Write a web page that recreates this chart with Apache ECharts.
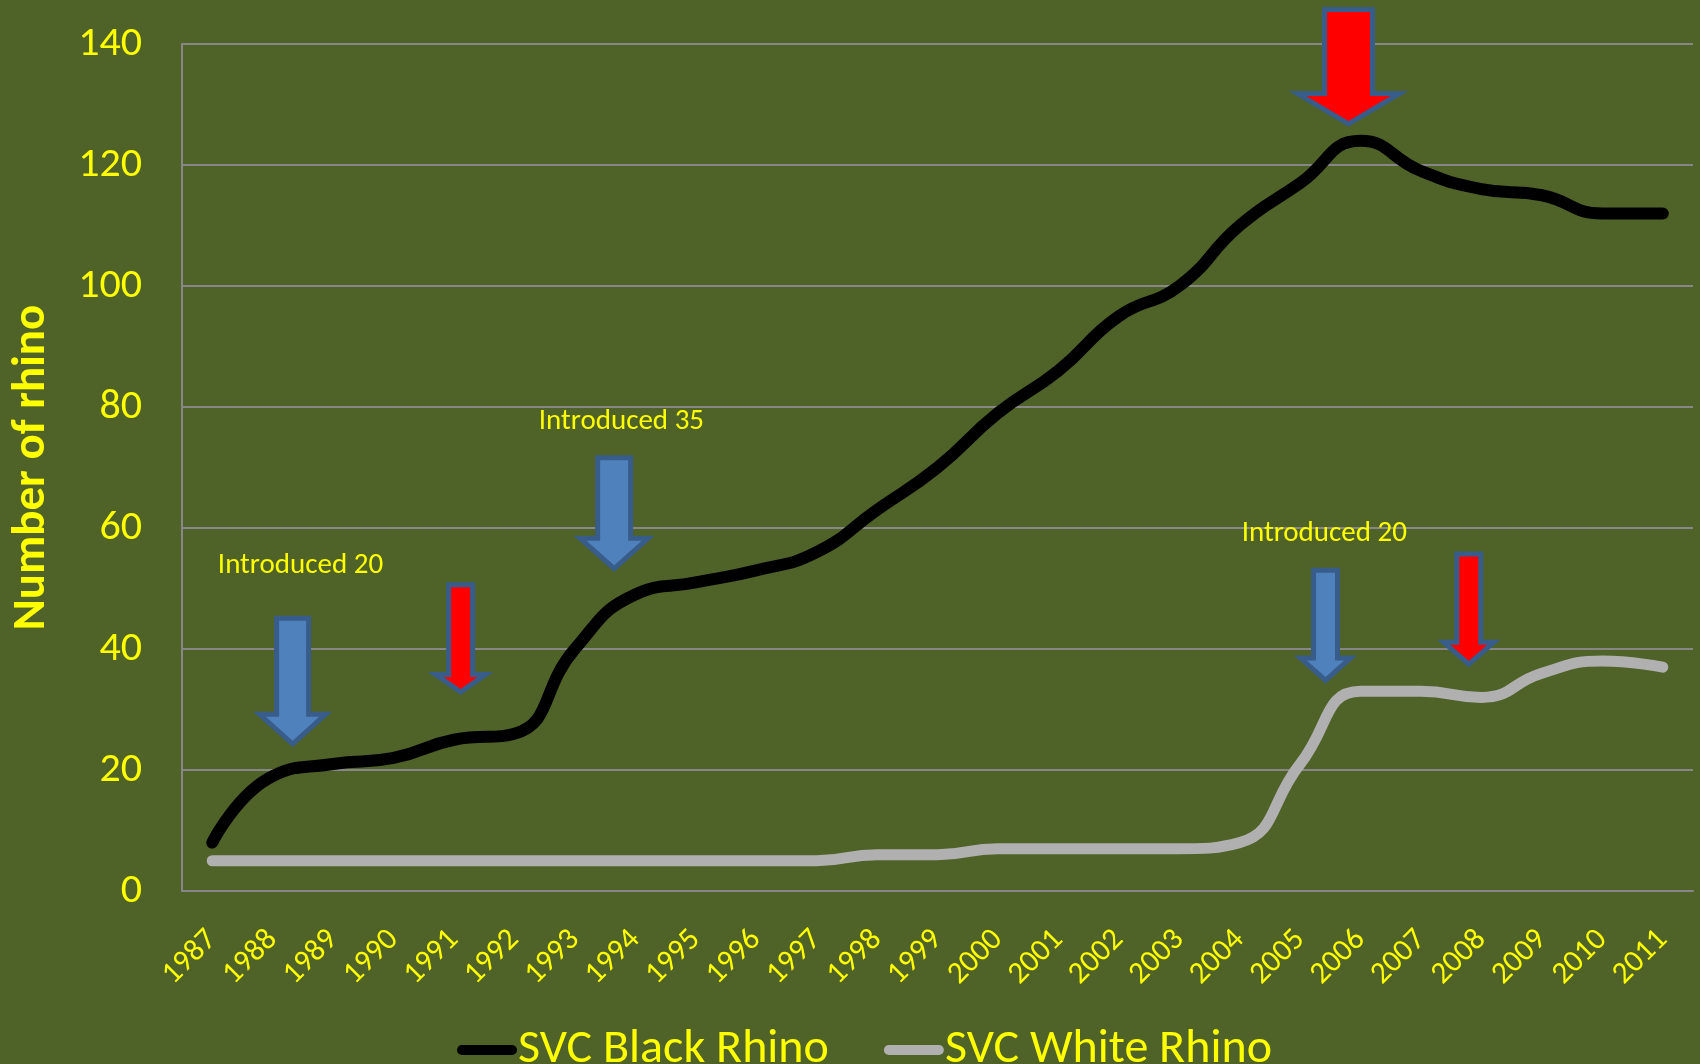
<!DOCTYPE html>
<html>
<head>
<meta charset="utf-8">
<script src="https://cdn.jsdelivr.net/npm/echarts@6/dist/echarts.min.js"></script>
<style>
  html, body { margin: 0; padding: 0; background: #4F6228; }
  #chart { width: 1700px; height: 1064px; }
</style>
</head>
<body>
<div id="chart"></div>
<script>
const years = ['1987','1988','1989','1990','1991','1992','1993','1994','1995','1996','1997','1998','1999','2000','2001','2002','2003','2004','2005','2006','2007','2008','2009','2010','2011'];
const blackRhino = [8,19,21,22,25,26,40,49,51,53,56,63,70,79,86,95,100,110,117,124,119,116,115,112,112];
const whiteRhino = [5,5,5,5,5,5,5,5,5,5,5,6,6,7,7,7,7,8,21,33,33,32,36,38,37];
const yTicks = { min: 0, max: 140, interval: 20 };

// Annotation arrows: x = category index, y values in data units
const arrows = [
  { x: 1.33, top: 45.1, head: 29.2, tip: 24.3, shaftW: 32, headW: 66, kind: 'blue' },
  { x: 4.11, top: 50.6, head: 35.8, tip: 32.9, shaftW: 24, headW: 50, kind: 'red' },
  { x: 6.65, top: 71.6, head: 58.3, tip: 53.3, shaftW: 33, headW: 68, kind: 'blue' },
  { x: 18.80, top: 145.7, head: 131.8, tip: 126.8, shaftW: 48, headW: 102, kind: 'red' },
  { x: 18.42, top: 53.0, head: 38.5, tip: 34.8, shaftW: 24, headW: 50, kind: 'blue' },
  { x: 20.79, top: 55.7, head: 41.1, tip: 37.5, shaftW: 24, headW: 50, kind: 'red' }
];
const notes = [
  { x: 1.46, y: 53.8, text: 'Introduced 20' },
  { x: 6.77, y: 77.6, text: 'Introduced 35' },
  { x: 18.40, y: 59.1, text: 'Introduced 20' }
];

const FONT = 'Carlito, Calibri, Lato, sans-serif';
const YELLOW = '#FFFF00';
const GRID = '#878787';

const chart = echarts.init(document.getElementById('chart'), null, { renderer: 'canvas' });
const pill = 'path://M5,0H55A5,5,0,0,1,55,10H5A5,5,0,0,1,5,0Z';

chart.setOption({
  backgroundColor: '#4F6228',
  animation: false,
  grid: { left: 182, right: 7, top: 44, bottom: 173, containLabel: false },
  legend: {
    left: 452, top: 1021,
    itemWidth: 60, itemHeight: 11, itemGap: 55,
    textStyle: { color: YELLOW, fontSize: 48, fontFamily: FONT, padding: [0, 0, 0, -4] },
    data: [
      { name: 'SVC Black Rhino', icon: pill },
      { name: 'SVC White Rhino', icon: pill }
    ]
  },
  xAxis: {
    type: 'category',
    data: years,
    boundaryGap: true,
    axisLine: { show: true, lineStyle: { color: GRID, width: 2 } },
    axisTick: { show: false },
    axisLabel: { color: YELLOW, fontSize: 31, fontFamily: FONT, rotate: 45, margin: 44, interval: 0 }
  },
  yAxis: {
    type: 'value',
    min: yTicks.min, max: yTicks.max, interval: yTicks.interval,
    name: 'Number of rhino',
    nameLocation: 'middle',
    nameRotate: 90,
    nameGap: 126,
    nameTextStyle: { color: YELLOW, fontSize: 47, fontWeight: 'bold', fontFamily: FONT },
    axisLine: { show: true, lineStyle: { color: GRID, width: 2 } },
    axisTick: { show: false },
    axisLabel: { color: YELLOW, fontSize: 42, fontFamily: FONT, margin: 40 },
    splitLine: { show: true, lineStyle: { color: GRID, width: 2 } }
  },
  series: [
    {
      name: 'SVC Black Rhino', type: 'line', data: blackRhino,
      smooth: 0.5, symbol: 'none',
      itemStyle: { color: '#000000' },
      lineStyle: { color: '#000000', width: 12, cap: 'round', join: 'round' },
      z: 3
    },
    {
      name: 'SVC White Rhino', type: 'line', data: whiteRhino,
      smooth: 0.5, symbol: 'none',
      itemStyle: { color: '#B0B0B0' },
      lineStyle: { color: '#B0B0B0', width: 11, cap: 'round', join: 'round' },
      z: 2
    }
  ]
});

function px(xIdx, val) {
  const a = chart.convertToPixel({ gridIndex: 0 }, [0, 0]);
  const b = chart.convertToPixel({ gridIndex: 0 }, [1, 20]);
  const dx = b[0] - a[0];
  const dy = (b[1] - a[1]) / 20;
  return [a[0] + dx * xIdx, a[1] + dy * val];
}

const graphics = [];
arrows.forEach(function (ar) {
  const t = px(ar.x, ar.top), h = px(ar.x, ar.head), p = px(ar.x, ar.tip);
  const cx = t[0], sw = ar.shaftW / 2, hw = ar.headW / 2;
  graphics.push({
    type: 'polygon',
    z: 100,
    shape: { points: [
      [cx - sw, t[1]], [cx + sw, t[1]], [cx + sw, h[1]], [cx + hw, h[1]],
      [cx, p[1]], [cx - hw, h[1]], [cx - sw, h[1]]
    ] },
    style: {
      fill: ar.kind === 'red' ? '#FF0000' : '#4F81BD',
      stroke: '#385D8A', lineWidth: 5, lineJoin: 'miter'
    }
  });
});
notes.forEach(function (n) {
  const q = px(n.x, n.y);
  graphics.push({
    type: 'text', z: 100,
    x: q[0], y: q[1],
    style: { text: n.text, fill: YELLOW, fontSize: 29, fontFamily: FONT, align: 'center', verticalAlign: 'middle' }
  });
});
chart.setOption({ graphic: graphics });
</script>
</body>
</html>
